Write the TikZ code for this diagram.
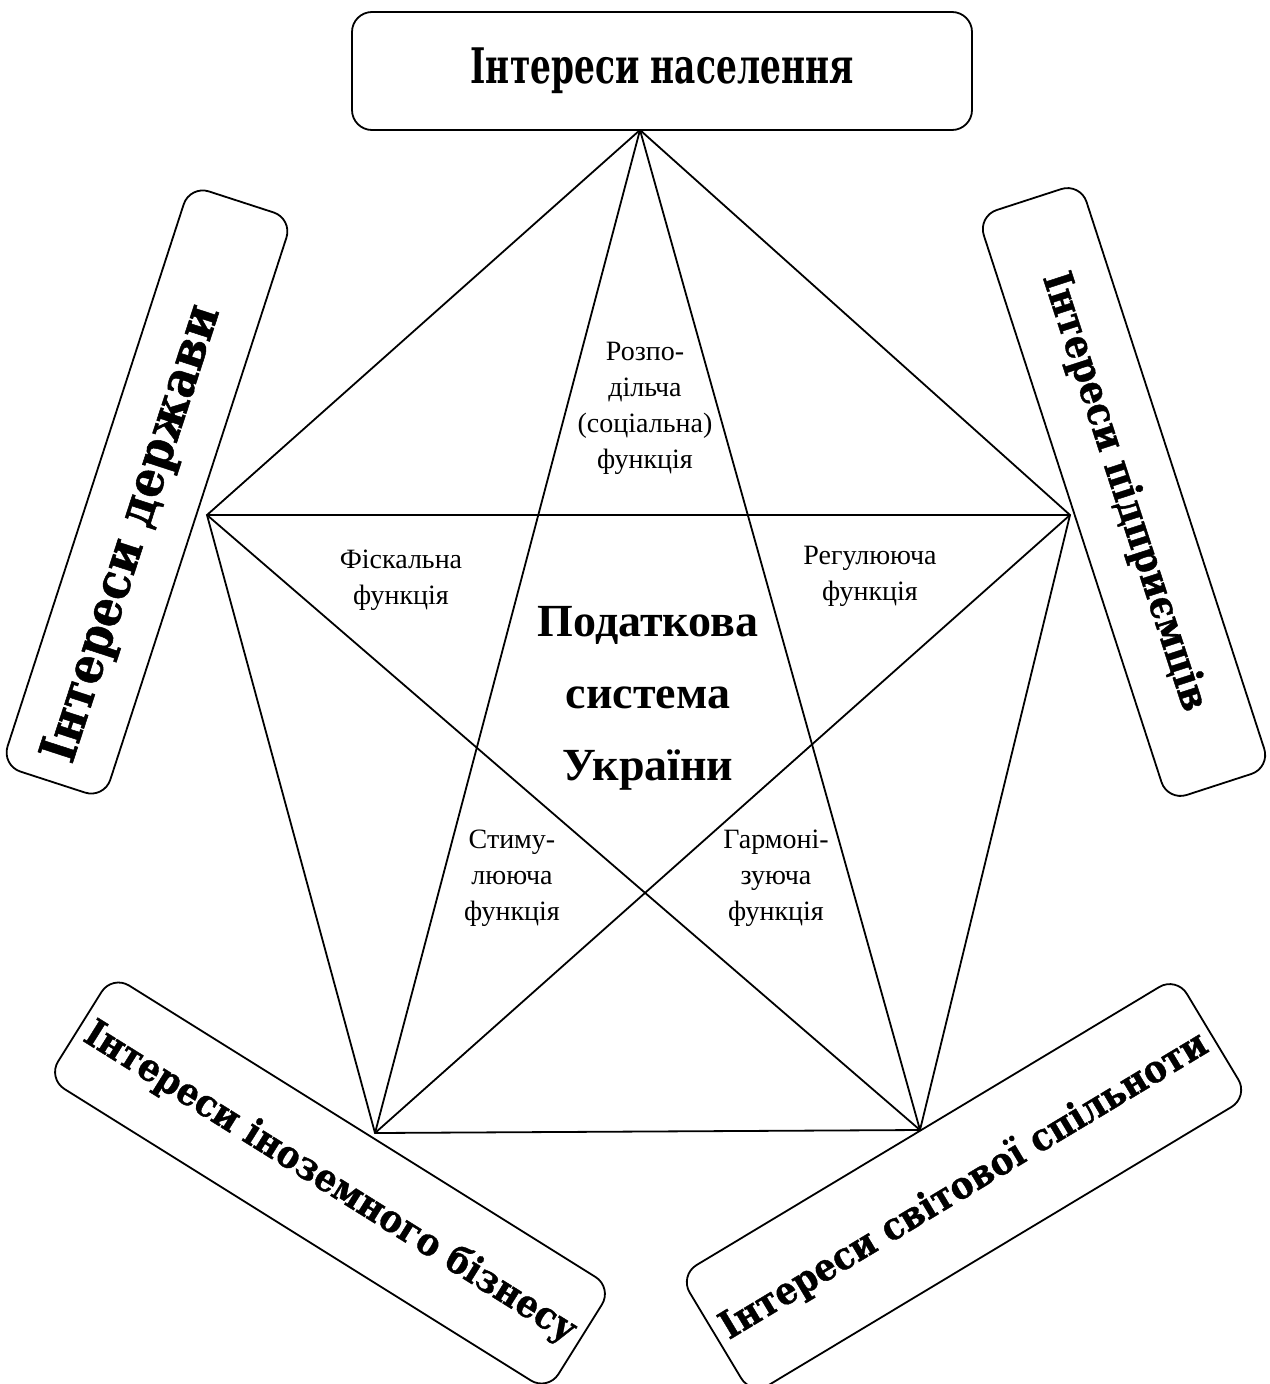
\documentclass[tikz,border=0pt]{standalone}
\usepackage{fontspec}
\setmainfont{Liberation Serif}
\newfontfamily\headfont{DejaVu Serif}[FakeStretch=0.67]
\newfontfamily\boxfont{DejaVu Serif}[FakeStretch=0.9, FakeBold=1]
\usepackage{tikz}
\usetikzlibrary{positioning}
\usetikzlibrary{shapes,arrows}
\tikzset{interest/.style={rectangle, draw, line width=1.8pt, rounded corners=20pt,
    inner xsep=22pt, inner ysep=0pt, font=\boxfont\bfseries\fontsize{#1}{#1}\selectfont}}
\tikzstyle{func} = [align=center, inner sep=0pt, font=\fontsize{28}{36}\selectfont]
\tikzstyle{core} = [align=center, inner sep=0pt, font=\bfseries\fontsize{46}{72}\selectfont]
\tikzstyle{line} = [draw, line width=1.8pt]

\begin{document}
\begin{tikzpicture}[x=1pt, y=-1pt]
        \useasboundingbox (0,0) rectangle (1269,1384);
        % star corners
        \coordinate (T) at (640,130);
        \coordinate (L) at (207,515);
        \coordinate (R) at (1070,515);
        \coordinate (BL) at (375,1133);
        \coordinate (BR) at (920,1130);
        % edges
        \path [line] (T) -- (R) -- (BR) -- (BL) -- (L) -- cycle;
        \path [line] (T) -- (BL);
        \path [line] (T) -- (BR);
        \path [line] (L) -- (R);
        \path [line] (L) -- (BR);
        \path [line] (R) -- (BL);
        % interests
        \node [interest=49, font=\headfont\bfseries\fontsize{49}{49}\selectfont, minimum width=620pt, minimum height=118pt, fill=white] (people) at (662,71) {Інтереси населення};
        \node [interest=50, text width=566pt, align=left, minimum height=108pt, rotate=72] (state) at (147,492) {Інтереси держави};
        \node [interest=40, minimum width=615pt, minimum height=108pt, rotate=-72] (business) at (1124,492) {Інтереси підприємців};
        \node [interest=38, minimum width=590pt, minimum height=122pt, inner xsep=6pt, rotate=-32] (foreign) at (330,1183) {Інтереси іноземного бізнесу};
        \node [interest=38, minimum width=580pt, minimum height=140pt, inner xsep=6pt, rotate=31] (world) at (964,1186) {Інтереси світової спільноти};
        % functions
        \node [func] (distr) at (645,408) {Розпо-\\дільча\\(соціальна)\\функція};
        \node [func] (fiscal) at (401,580) {Фіскальна\\функція};
        \node [func] (regul) at (870,576) {Регулююча\\функція};
        \node [func] (stimul) at (512,878) {Стиму-\\лююча\\функція};
        \node [func] (harmon) at (776,878) {Гармоні-\\зуюча\\функція};
        \node [core] (system) at (648,698) {Податкова\\система\\України};
\end{tikzpicture}
\end{document}
